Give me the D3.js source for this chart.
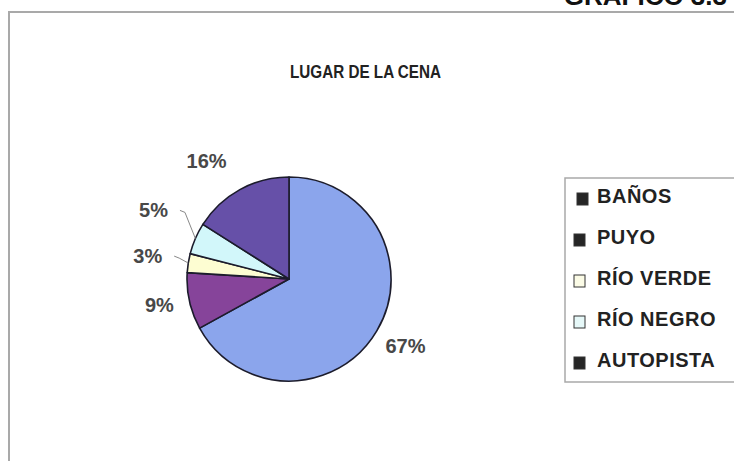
<!DOCTYPE html>
<html>
<head>
<meta charset="utf-8">
<script src="https://cdn.jsdelivr.net/npm/d3@7"></script>
<style>
  html, body { margin: 0; padding: 0; background: #fff; }
  svg { display: block; font-family: "Liberation Sans", Arial, sans-serif; }
</style>
</head>
<body>
<svg id="chart" width="734" height="461"></svg>
<script>
// Dinner location shares (percent)
const categories = ["BAÑOS", "PUYO", "RÍO VERDE", "RÍO NEGRO", "AUTOPISTA"];
const values = [67, 9, 3, 5, 16];
const sliceColors = ["#8ba5ec", "#86449a", "#fdfdd2", "#d2f7fa", "#6650a8"];
const legendSwatch = ["#262626", "#262626", "#fbfbe6", "#e6f8f8", "#262626"];
const leaderLabels = ["RÍO VERDE", "RÍO NEGRO"];

// Small hand nudges for the outside data labels
const labelNudge = {
  "BAÑOS": [-4, -4],
  "PUYO": [7, -5],
  "RÍO VERDE": [-3, -1],
  "RÍO NEGRO": [-7, -13],
  "AUTOPISTA": [-15, 5]
};

const svg = d3.select("#chart");
const W = 734, H = 461;

// Page header, clipped at the top edge
svg.append("text")
  .attr("x", 727).attr("y", 5)
  .attr("text-anchor", "end")
  .attr("font-size", 26).attr("font-weight", "bold")
  .attr("fill", "#111")
  .text("GRAFICO 3.3");

// Chart frame
svg.append("path")
  .attr("d", `M9,${H} L9,12 L${W},12`)
  .attr("fill", "none")
  .attr("stroke", "#a9a9a9")
  .attr("stroke-width", 2);

// Title
svg.append("text")
  .attr("x", 290).attr("y", 78)
  .attr("font-size", 18).attr("font-weight", "bold")
  .attr("fill", "#222")
  .attr("textLength", 151)
  .attr("lengthAdjust", "spacingAndGlyphs")
  .text("LUGAR DE LA CENA");

// Pie
const cx = 289, cy = 279, r = 102;
const data = categories.map((c, i) => ({ name: c, value: values[i], color: sliceColors[i] }));
const pie = d3.pie().value(d => d.value).sort(null);
const arcs = pie(data);
const arc = d3.arc().innerRadius(0).outerRadius(r);

const g = svg.append("g").attr("transform", `translate(${cx},${cy})`);
g.selectAll("path.slice")
  .data(arcs)
  .join("path")
  .attr("class", "slice")
  .attr("d", arc)
  .attr("fill", d => d.data.color)
  .attr("stroke", "#1c1c2c")
  .attr("stroke-width", 1.6)
  .attr("stroke-linejoin", "round");

// Data labels outside the pie
const labelR = 140;
arcs.forEach(a => {
  const m = (a.startAngle + a.endAngle) / 2;
  const sx = Math.sin(m), sy = -Math.cos(m);
  const [nx, ny] = labelNudge[a.data.name];
  const lx = sx * labelR + nx, ly = sy * labelR + ny;
  const txt = g.append("text")
    .attr("x", lx).attr("y", ly + 7)
    .attr("text-anchor", "middle")
    .attr("font-size", 20).attr("font-weight", "bold")
    .attr("fill", "#484848")
    .text(Math.round(a.value) + "%");
  if (leaderLabels.includes(a.data.name)) {
    const half = txt.node().getComputedTextLength() / 2;
    const x0 = lx + half + 12, y0 = ly;
    const ex = sx * r, ey = sy * r;
    g.append("polyline")
      .attr("points", `${x0},${y0} ${x0 + 5},${y0 + 2} ${ex},${ey}`)
      .attr("fill", "none")
      .attr("stroke", "#888")
      .attr("stroke-width", 1);
  }
});

// Legend
const lg = svg.append("g");
lg.append("rect")
  .attr("x", 565).attr("y", 178)
  .attr("width", W - 565 + 5).attr("height", 204)
  .attr("fill", "#fff")
  .attr("stroke", "#a9a9a9")
  .attr("stroke-width", 1.5);

const ly = d3.scalePoint().domain(categories).range([203, 367]);
categories.forEach((c, i) => {
  const y = ly(c);
  lg.append("rect")
    .attr("x", i === 0 ? 577 : 574).attr("y", y - 10)
    .attr("width", 11).attr("height", 12)
    .attr("fill", legendSwatch[i])
    .attr("stroke", "#333").attr("stroke-width", 1);
  lg.append("text")
    .attr("x", 597).attr("y", y)
    .attr("font-size", 20).attr("font-weight", "bold")
    .attr("letter-spacing", 0.5)
    .attr("fill", "#222")
    .text(c);
});
</script>
</body>
</html>
